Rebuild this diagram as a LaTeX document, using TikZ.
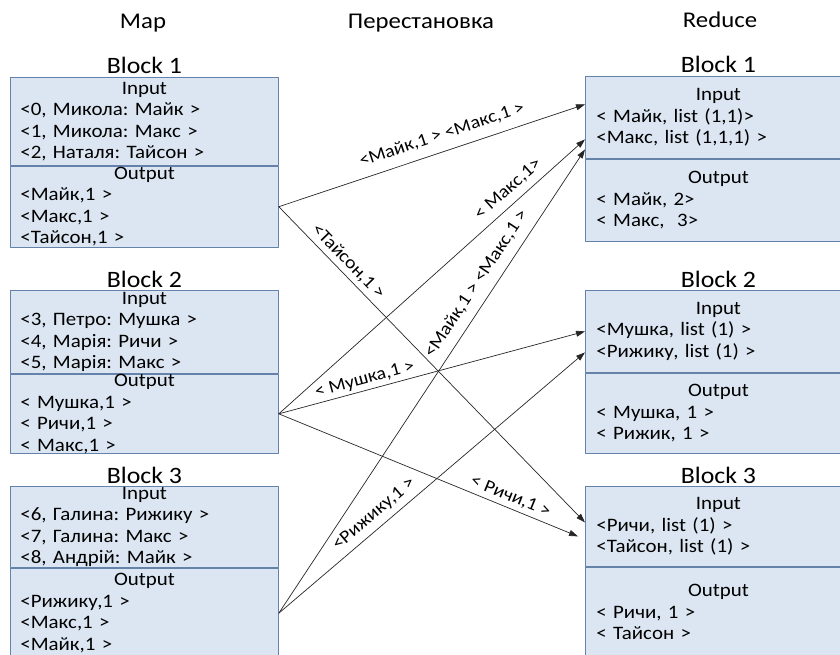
\documentclass[tikz,border=0pt]{standalone}
\usepackage{fontspec}
\setmainfont{Carlito}[FakeStretch=1.1]
\usetikzlibrary{arrows.meta}
\setlength{\parindent}{0pt}
\frenchspacing
\definecolor{boxfill}{RGB}{220,230,242}
\definecolor{boxline}{RGB}{100,130,170}
\tikzset{
  part/.style={draw=boxline, fill=boxfill, line width=0.8pt, anchor=north west,
    inner xsep=10pt, inner ysep=0pt, align=left, font=\fontsize{19}{21.5}\selectfont},
  lpart/.style={part, text width=248pt},
  rpart/.style={part, text width=244pt, inner xsep=11pt},
  blocktitle/.style={anchor=base, font=\fontsize{23.5}{26}\selectfont},
  stage/.style={anchor=base, font=\fontsize{22.5}{25}\selectfont},
  flow/.style={->, line width=0.7pt, draw=black!85},
  tag/.style={sloped, inner sep=3pt, font=\fontsize{18}{20}\selectfont},
}
\begin{document}
\begin{tikzpicture}[x=1pt, y=-1pt, >={Triangle[length=9pt,width=6pt]}, line cap=round, line join=round]
\useasboundingbox (0,0) rectangle (840,655);

\node[stage] (map) at (143,29) {Map};
\node[stage] (shuffle) at (421,29) {Перестановка};
\node[stage] (reduce) at (720,28) {Reduce};

\node[lpart, minimum height=88pt] (in1) at (10,77)
  {\centerline{Input}\\<0, Микола: Майк >\\<1, Микола: Макс >\\<2, Наталя: Тайсон >};
\node[lpart, minimum height=81pt] (out1) at (in1.south west)
  {\centerline{Output}\\<Майк,1 >\\<Макс,1 >\\<Тайсон,1 >};
\node[lpart, minimum height=83pt] (in2) at (10,290)
  {\centerline{Input}\\<3, Петро: Мушка >\\<4, Марія: Ричи >\\<5, Марія: Макс >};
\node[lpart, minimum height=79pt] (out2) at (in2.south west)
  {\centerline{Output}\\< Мушка,1 >\\< Ричи,1 >\\< Макс,1 >};
\node[lpart, minimum height=81pt] (in3) at (10,486)
  {\centerline{Input}\\<6, Галина: Рижику >\\<7, Галина: Макс >\\<8, Андрій: Майк >};
\node[lpart, minimum height=90pt] (out3) at (in3.south west)
  {\centerline{Output}\\<Рижику,1 >\\<Макс,1 >\\<Майк,1 >};

\node[rpart, minimum height=82pt] (rin1) at (585,76)
  {\centerline{Input}\\< Майк, list (1,1)>\\<Макс, list (1,1,1) >};
\node[rpart, minimum height=82pt] (rout1) at (rin1.south west)
  {\centerline{Output}\\< Майк, 2>\\< Макс,~ 3>};
\node[rpart, minimum height=82pt] (rin2) at (585,290)
  {\centerline{Input}\\<Мушка, list (1) >\\<Рижику, list (1) >};
\node[rpart, minimum height=80pt] (rout2) at (rin2.south west)
  {\centerline{Output}\\< Мушка, 1 >\\< Рижик, 1 >};
\node[rpart, minimum height=80pt] (rin3) at (585,486)
  {\centerline{Input}\\<Ричи, list (1) >\\<Тайсон, list (1) >};
\node[rpart, minimum height=90pt] (rout3) at (rin3.south west)
  {\centerline{Output}\\< Ричи, 1 >\\< Тайсон >};

\foreach \b in {1,2,3} {
  \node[blocktitle] (mt\b) at ([yshift=3pt]in\b.north) {Block \b};
  \node[blocktitle] (rt\b) at ([yshift=3pt]rin\b.north) {Block \b};
}

\coordinate (a1) at ([yshift=13pt]rin1.west);
\coordinate (a2) at ([yshift=-22pt]rin1.west);
\coordinate (a3) at ([yshift=-32pt]rin1.west);
\coordinate (a4) at (rin2.west);
\coordinate (a5) at ([yshift=-21pt]rin2.west);
\coordinate (a6) at ([yshift=4pt]rin3.west);
\coordinate (a7) at ([shift={(-7pt,-10pt)}]rin3.west);

\foreach \src/\dst/\p/\d/\t in {
    out1/a1/.55/6pt/{<Майк,1 > <Макс,1 >},
    out1/a6/.2/1pt/{<Тайсон,1 >},
    out2/a2/.78/4pt/{< Макс,1>},
    out2/a4/.29/0pt/{< Мушка,1 >},
    out2/a7/.76/1pt/{< Ричи,1 >},
    out3/a3/.69/6pt/{<Майк,1 > <Макс,1 >},
    out3/a5/.34/3pt/{<Рижику,1 >}}
  \draw[flow] (\src.east) -- (\dst) node[tag, pos=\p, above=\d] {\t};
\end{tikzpicture}
\end{document}
